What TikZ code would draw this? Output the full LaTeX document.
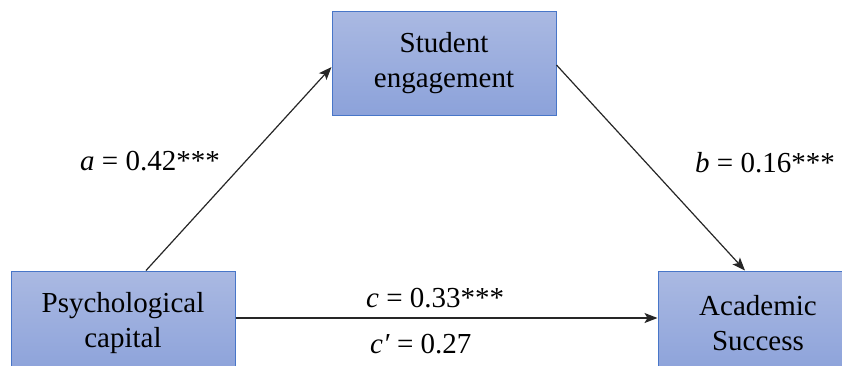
\documentclass[tikz,border=0pt]{standalone}
\usepackage{fontspec}
\setmainfont{Liberation Serif}
\newfontfamily\tnr{Liberation Serif}
\usetikzlibrary{arrows.meta}
\tikzset{
  varbox/.style={rectangle, draw={rgb,255:red,72;green,118;blue,200}, line width=1pt,
    top color={rgb,255:red,170;green,185;blue,226}, bottom color={rgb,255:red,140;green,162;blue,218},
    minimum width=224pt, minimum height=104pt, inner sep=0pt},
  link/.style={draw=black!85, line width=1.2pt, -{Stealth[length=13pt,width=10pt,inset=3pt]}},
  boxtext/.style={font=\tnr\fontsize{29}{35}\selectfont, align=center},
  coef/.style={font=\tnr\fontsize{29}{35}\selectfont, anchor=base west, inner sep=0pt}
}
\begin{document}
\begin{tikzpicture}[x=1pt,y=-1pt]
\useasboundingbox (0,0) rectangle (842,365);
\node[varbox] (se) at (444,63) {};
\node[varbox] (psy) at (123,323) {};
\node[varbox, minimum width=200pt] (as) at (758,323) {};
\draw[link] ([xshift=23pt]psy.north) -- ([yshift=-4pt]se.west);
\draw[link] ([yshift=-2pt]se.east) -- ([xshift=-13pt]as.north);
\draw[link] ([yshift=5pt]psy.east) -- ([yshift=5pt]as.west);
\node[boxtext] (set) at (se.center) {Student\\engagement};
\node[boxtext] (psyt) at (psy.center) {Psychological\\capital};
\node[boxtext] (ast) at (as.center) {Academic\\Success};
\node[coef] (la) at (80,170) {\textit{a} = 0.42***};
\node[coef] (lb) at (695,172) {\textit{b} = 0.16***};
\node[coef] (lc) at (366,307) {\textit{c} = 0.33***};
\node[coef] (lcp) at (370,353) {\textit{c′} = 0.27};
\end{tikzpicture}
\end{document}
